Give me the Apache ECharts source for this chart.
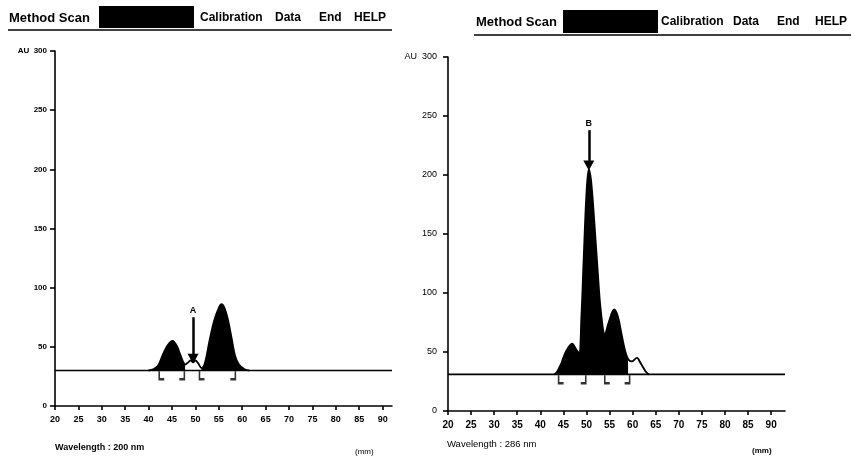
<!DOCTYPE html>
<html>
<head>
<meta charset="utf-8">
<script src="https://cdn.jsdelivr.net/npm/echarts@6/dist/echarts.min.js"></script>
<style>
html, body { margin: 0; padding: 0; background: #fff; }
#main { width: 852px; height: 462px; }
</style>
</head>
<body>
<div id="main"></div>
<script>
// tick labels
var wlTicks = [20, 25, 30, 35, 40, 45, 50, 55, 60, 65, 70, 75, 80, 85, 90];
var auTicks = [0, 50, 100, 150, 200, 250, 300];

// left scan (wavelength 200 nm)
var leftWl = [40, 41, 42, 43, 44, 45.1, 46, 46.7, 47.3, 47.8, 48.5, 49, 49.5, 50, 50.6, 51.3, 52, 53, 54, 55, 55.6, 56.3, 57, 57.7, 58.5, 59.3, 60.5, 61.5];
var leftAu = [30, 31, 34, 43, 51, 55, 51, 44, 38, 35, 37, 38.5, 37, 38.5, 36, 32, 36, 55, 72, 83, 86, 82, 72, 58, 42, 35, 31, 30];
var leftFill = [[40, 47.8], [51.3, 61.5]];
var leftBase = 30;
var leftOpen = [42.8, 51.4];
var leftClose = [47.1, 58.0];
var leftArrow = [49.5, 75, 40];

// right scan (wavelength 286 nm)
var rightWl = [43, 43.6, 44.5, 45.5, 46.9, 47.8, 48.4, 48.9, 49.4, 50, 50.5, 51, 51.7, 52.4, 53.1, 54, 54.8, 56, 56.8, 57.6, 58.3, 59, 59.8, 60.9, 61.8, 62.9, 63.5];
var rightAu = [31, 33, 40, 50, 57, 52, 49, 80, 130, 185, 205, 195, 160, 120, 85, 65, 75, 86, 80, 65, 52, 44, 42, 45, 40, 33, 31];
var rightFill = [[43.6, 59]];
var rightBase = 31;
var rightOpen = [44.5, 54.5];
var rightClose = [49.3, 58.8];
var rightArrow = [50.5, 238, 208];

var myChart = echarts.init(document.getElementById('main'));

function pairs(xs, ys, lo, hi) {
    var res = [];
    for (var i = 0; i < xs.length; i++) {
        if (xs[i] >= lo && xs[i] <= hi) res.push([xs[i], ys[i]]);
    }
    return res;
}

function buildSeries(k, wl, au, fills, base, opens, closes, arrow, xmax, letter) {
    var out = [];
    out.push({
        type: 'line', xAxisIndex: k, yAxisIndex: k,
        data: [[20, base], [xmax, base]],
        symbol: 'none', silent: true,
        lineStyle: { color: '#000', width: 1.6 }
    });
    fills.forEach(function (f) {
        out.push({
            type: 'line', xAxisIndex: k, yAxisIndex: k,
            data: pairs(wl, au, f[0], f[1]),
            symbol: 'none', smooth: 0.35, silent: true,
            lineStyle: { width: 0 },
            areaStyle: { color: '#000', opacity: 1, origin: base }
        });
    });
    out.push({
        type: 'line', xAxisIndex: k, yAxisIndex: k,
        data: pairs(wl, au, -1, 999),
        symbol: 'none', smooth: 0.35, silent: true,
        lineStyle: { color: '#000', width: 1.8 },
        markLine: {
            silent: true,
            symbol: ['none', 'triangle'],
            symbolSize: [11, 10],
            lineStyle: { color: '#000', width: 2.5, type: 'solid' },
            label: { show: true, position: 'start', formatter: letter, color: '#000', fontWeight: 'bold', fontSize: 9, distance: 2 },
            data: [[{ coord: [arrow[0], arrow[1]] }, { coord: [arrow[0], arrow[2]] }]]
        }
    });
    out.push({
        type: 'scatter', xAxisIndex: k, yAxisIndex: k, silent: true,
        data: opens.map(function (x) { return [x, base - 4]; }),
        symbol: 'path://M0,0 L0,10 L5,10', symbolSize: [5, 8],
        itemStyle: { color: 'transparent', borderColor: '#000', borderWidth: 2 }
    });
    out.push({
        type: 'scatter', xAxisIndex: k, yAxisIndex: k, silent: true,
        data: closes.map(function (x) { return [x, base - 4]; }),
        symbol: 'path://M5,0 L5,10 L0,10', symbolSize: [5, 8],
        itemStyle: { color: 'transparent', borderColor: '#000', borderWidth: 2 }
    });
    return out;
}

function xAxisOf(k, xmax, size, weight) {
    return {
        type: 'value', gridIndex: k, min: 20, max: xmax,
        splitLine: { show: false },
        axisLine: { lineStyle: { color: '#000', width: 1.6 } },
        axisTick: { length: 4, customValues: wlTicks, lineStyle: { color: '#000', width: 1.6 } },
        axisLabel: { customValues: wlTicks, color: '#000', fontSize: size, fontWeight: weight, fontFamily: 'Liberation Sans', margin: 9 }
    };
}

function yAxisOf(k, size, weight, margin) {
    return {
        type: 'value', gridIndex: k, min: 0, max: 300, interval: 50,
        splitLine: { show: false },
        axisLine: { show: true, lineStyle: { color: '#000', width: 1.6 } },
        axisTick: { show: true, length: 5, lineStyle: { color: '#000', width: 1.6 } },
        axisLabel: {
            color: '#000', fontSize: size, fontWeight: weight, fontFamily: 'Liberation Sans', margin: margin,
            formatter: function (v) { return v === 300 ? 'AU  ' + v : '' + v; }
        }
    };
}

function txt(x, y, s, size, weight) {
    return { type: 'text', x: x, y: y, style: { text: s, fill: '#000', fontSize: size, fontWeight: weight || 'bold', fontFamily: 'Liberation Sans', verticalAlign: 'middle' } };
}

var header = [
    txt(9, 18, 'Method Scan', 13), { type: 'rect', shape: { x: 99, y: 6, width: 95, height: 22 }, style: { fill: '#000' } },
    txt(200, 18, 'Calibration', 12), txt(275, 18, 'Data', 12), txt(319, 18, 'End', 12), txt(354, 18, 'HELP', 12),
    { type: 'line', shape: { x1: 8, y1: 30, x2: 392, y2: 30 }, style: { stroke: '#000', lineWidth: 1.5 } },
    txt(476, 22, 'Method Scan', 13), { type: 'rect', shape: { x: 563, y: 10, width: 95, height: 23 }, style: { fill: '#000' } },
    txt(661, 22, 'Calibration', 12), txt(733, 22, 'Data', 12), txt(777, 22, 'End', 12), txt(815, 22, 'HELP', 12),
    { type: 'line', shape: { x1: 474, y1: 35, x2: 851, y2: 35 }, style: { stroke: '#000', lineWidth: 1.5 } },
    txt(55, 448, 'Wavelength : 200 nm', 9), txt(355, 452, '(mm)', 8, 'normal'),
    txt(447, 444, 'Wavelength : 286 nm', 9.5, 'normal'), txt(752, 451, '(mm)', 8)
];

var option = {
    backgroundColor: '#fff',
    animation: false,
    grid: [
        { left: 55, top: 51, width: 337, height: 355 },
        { left: 448, top: 57, width: 337, height: 354 }
    ],
    xAxis: [xAxisOf(0, 92, 9, 'bold'), xAxisOf(1, 93, 10, 'bold')],
    yAxis: [yAxisOf(0, 8, 'bold', 8), yAxisOf(1, 9, 'normal', 11)],
    graphic: header,
    series: buildSeries(0, leftWl, leftAu, leftFill, leftBase, leftOpen, leftClose, leftArrow, 92, 'A')
        .concat(buildSeries(1, rightWl, rightAu, rightFill, rightBase, rightOpen, rightClose, rightArrow, 93, 'B'))
};
myChart.setOption(option);
</script>
</body>
</html>
